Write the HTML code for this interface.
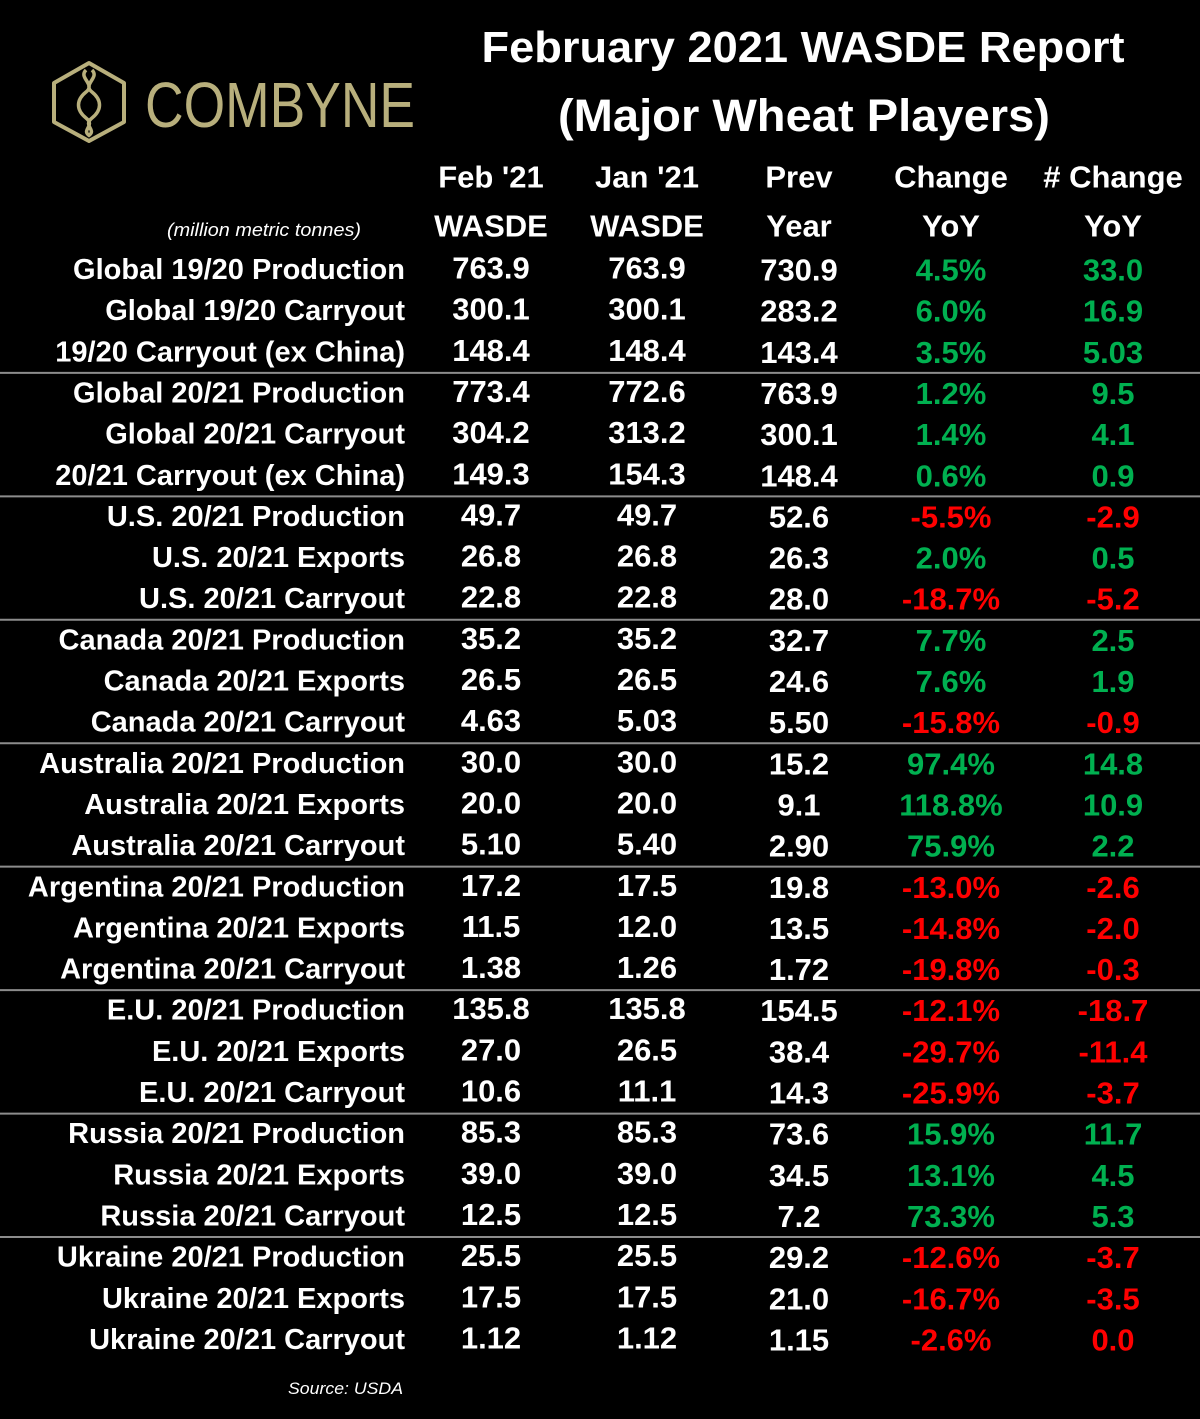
<!DOCTYPE html>
<html><head><meta charset="utf-8"><style>
html,body{margin:0;padding:0;background:#000;}
svg{display:block;font-family:"Liberation Sans",sans-serif;}
</style></head><body>
<svg id="tbl" width="1200" height="1419" viewBox="0 0 1200 1419">
<rect width="1200" height="1419" fill="#000"/>
<g>
<polygon points="89,63 124,83 124,122 89,141 54,122 54,83" fill="none" stroke="#b8af7c" stroke-width="4" stroke-linejoin="round"/>
<path d="M86,70 C78,78 96,84 86,92 C76,100 76,110 86,118 C96,126 80,130 90,136 M92,70 C100,78 82,84 92,92 C102,100 102,110 92,118 C82,126 98,130 88,136" fill="none" stroke="#b8af7c" stroke-width="3.5"/>
<text x="145" y="127" font-size="64" fill="#b8af7c" textLength="270" lengthAdjust="spacingAndGlyphs">COMBYNE</text>
</g>
<text x="803" y="62" text-anchor="middle" font-size="44" font-weight="bold" fill="#fff" textLength="643" lengthAdjust="spacingAndGlyphs">February 2021 WASDE Report</text>
<text x="804" y="131" text-anchor="middle" font-size="45" font-weight="bold" fill="#fff" textLength="492" lengthAdjust="spacingAndGlyphs">(Major Wheat Players)</text>
<text x="264" y="236" text-anchor="middle" font-size="18" font-style="italic" fill="#fff" textLength="194" lengthAdjust="spacingAndGlyphs">(million metric tonnes)</text>
<text x="403" y="1394" text-anchor="end" font-size="17" font-style="italic" fill="#fff" textLength="115" lengthAdjust="spacingAndGlyphs">Source: USDA</text>
<g id="rows"></g>
</svg>
<script>
const headers1 = ["Feb '21","Jan '21","Prev","Change","# Change"];
const headers2 = ["WASDE","WASDE","Year","YoY","YoY"];
const labels = ["Global 19/20 Production","Global 19/20 Carryout","19/20 Carryout (ex China)","Global 20/21 Production","Global 20/21 Carryout","20/21 Carryout (ex China)","U.S. 20/21 Production","U.S. 20/21 Exports","U.S. 20/21 Carryout","Canada 20/21 Production","Canada 20/21 Exports","Canada 20/21 Carryout","Australia 20/21 Production","Australia 20/21 Exports","Australia 20/21 Carryout","Argentina 20/21 Production","Argentina 20/21 Exports","Argentina 20/21 Carryout","E.U. 20/21 Production","E.U. 20/21 Exports","E.U. 20/21 Carryout","Russia 20/21 Production","Russia 20/21 Exports","Russia 20/21 Carryout","Ukraine 20/21 Production","Ukraine 20/21 Exports","Ukraine 20/21 Carryout"];
const feb = ["763.9","300.1","148.4","773.4","304.2","149.3","49.7","26.8","22.8","35.2","26.5","4.63","30.0","20.0","5.10","17.2","11.5","1.38","135.8","27.0","10.6","85.3","39.0","12.5","25.5","17.5","1.12"];
const jan = ["763.9","300.1","148.4","772.6","313.2","154.3","49.7","26.8","22.8","35.2","26.5","5.03","30.0","20.0","5.40","17.5","12.0","1.26","135.8","26.5","11.1","85.3","39.0","12.5","25.5","17.5","1.12"];
const prev = ["730.9","283.2","143.4","763.9","300.1","148.4","52.6","26.3","28.0","32.7","24.6","5.50","15.2","9.1","2.90","19.8","13.5","1.72","154.5","38.4","14.3","73.6","34.5","7.2","29.2","21.0","1.15"];
const pct = ["4.5%","6.0%","3.5%","1.2%","1.4%","0.6%","-5.5%","2.0%","-18.7%","7.7%","7.6%","-15.8%","97.4%","118.8%","75.9%","-13.0%","-14.8%","-19.8%","-12.1%","-29.7%","-25.9%","15.9%","13.1%","73.3%","-12.6%","-16.7%","-2.6%"];
const chg = ["33.0","16.9","5.03","9.5","4.1","0.9","-2.9","0.5","-5.2","2.5","1.9","-0.9","14.8","10.9","2.2","-2.6","-2.0","-0.3","-18.7","-11.4","-3.7","11.7","4.5","5.3","-3.7","-3.5","0.0"];
const redZero = [26];

const NS="http://www.w3.org/2000/svg";
const g=document.getElementById('rows');
const colX=[491,647,799,951,1113];
const rowY=i=>270+i*41.15;
function t(x,y,s,opts){
  const e=document.createElementNS(NS,'text');
  e.setAttribute('x',x);e.setAttribute('y',y);
  e.setAttribute('text-anchor',opts.anchor||'middle');
  e.setAttribute('dominant-baseline','central');
  e.setAttribute('font-size',opts.size||31);
  e.setAttribute('font-weight','bold');
  e.setAttribute('fill',opts.fill||'#fff');
  e.textContent=s;g.appendChild(e);return e;
}
headers1.forEach((h,j)=>{
  const e=t(colX[j],177,h,{size:31});
  
  
});
headers2.forEach((h,j)=>{
  const e=t(colX[j],226,h,{size:31});
  
  
});
labels.forEach((lab,i)=>{
  const y=rowY(i);
  const l=t(405,y,lab,{anchor:'end',size:29});
  
  
  const a=t(colX[0],y-2,feb[i],{});
  
  
  const b=t(colX[1],y-2,jan[i],{});
  
  
  const c=t(colX[2],y,prev[i],{});
  
  
  const neg=pct[i].startsWith('-');
  const col=neg?'#ff0000':'#00b050';
  const d=t(colX[3],y,pct[i],{fill:col});
  
  
  const nc=(chg[i].startsWith('-')||redZero.includes(i))?'#ff0000':'#00b050';
  const f=t(colX[4],y,chg[i],{fill:nc});
  
  
  if(i%3===2 && i<labels.length-1){
    const ln=document.createElementNS(NS,'line');
    const ly=(rowY(i)+rowY(i+1))/2;
    ln.setAttribute('x1',0);ln.setAttribute('x2',1200);
    ln.setAttribute('y1',ly);ln.setAttribute('y2',ly);
    ln.setAttribute('stroke','#8c8c8c');ln.setAttribute('stroke-width','2');
    
    
    g.appendChild(ln);
  }
});
</script>
</body></html>
